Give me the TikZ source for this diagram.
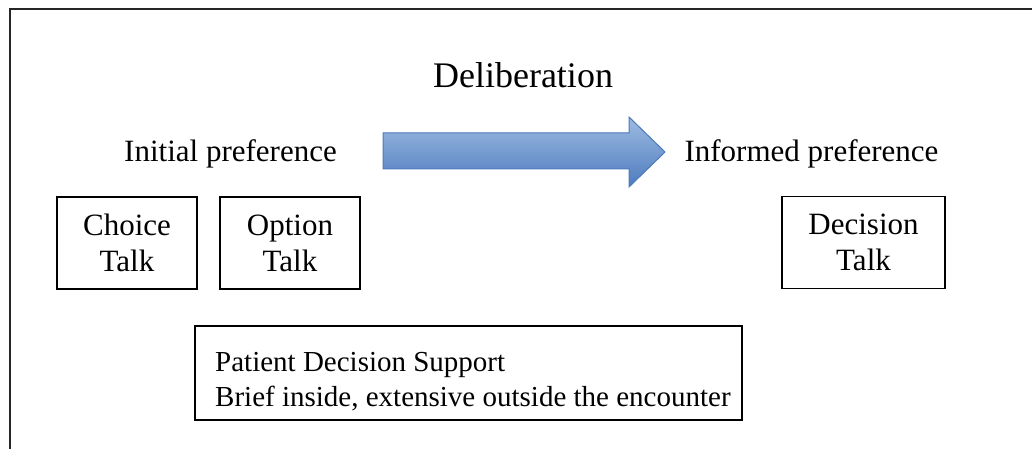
\documentclass[tikz,border=0pt]{standalone}
\usepackage{fontspec}
\setmainfont{Liberation Serif}
\definecolor{arrtop}{RGB}{158,187,226}
\definecolor{arrbot}{RGB}{78,123,190}
\definecolor{arredge}{RGB}{74,122,187}
\begin{document}
\begin{tikzpicture}[x=1pt,y=-1pt,
  talkbox/.style={draw=black, line width=1.6pt, minimum width=#1, minimum height=92pt, inner sep=0pt, align=center, font=\fontsize{31}{36}\selectfont},
  label/.style={anchor=base, inner sep=0pt, font=\fontsize{31}{36}\selectfont},
  frame/.style={draw=black!85, line width=2pt}]
\useasboundingbox (0,0) rectangle (1032,449);
% frame (top and left only)
\coordinate (fbl) at (9.5,449);
\coordinate (ftl) at (9.5,9.5);
\coordinate (ftr) at (1032,9.5);
\draw[frame] (fbl) -- (ftl) -- (ftr);
% title
\node[anchor=base, inner sep=0pt, font=\fontsize{36}{40}\selectfont] (delib) at (523,88) {Deliberation};
% preferences
\node[label] (initial) at (230.5,162) {Initial preference};
\node[label] (informed) at (811.5,162) {Informed preference};
% arrow
\coordinate (a1) at (383,133);
\coordinate (a2) at (629,133);
\coordinate (a3) at (629,117);
\coordinate (a4) at (665,152);
\coordinate (a5) at (629,187);
\coordinate (a6) at (629,169);
\coordinate (a7) at (383,169);
\fill[black!30, shift={(1pt,-3pt)}] (a1) -- (a2) -- (a6) -- (a7) -- cycle;
\shade[top color=arrtop, bottom color=arrbot, draw=arredge, line width=1pt]
  (a1) -- (a2) -- (a3) -- (a4) -- (a5) -- (a6) -- (a7) -- cycle;
% talk boxes
\node[talkbox=140pt] (choice) at (127,243) {Choice\\Talk};
\node[talkbox=140pt] (option) at (290,243) {Option\\Talk};
\node[talkbox=163pt] (decision) at (863.5,242.5) {Decision\\Talk};
% patient decision support
\node[draw=black, line width=1.6pt, minimum width=547pt, minimum height=94pt, inner sep=0pt] (pds) at (468.5,373) {};
\node[anchor=west, inner sep=0pt, align=left, font=\fontsize{29}{35}\selectfont] (pdstext) at (215,382)
  {Patient Decision Support\\Brief inside, extensive outside the encounter};
\end{tikzpicture}
\end{document}
